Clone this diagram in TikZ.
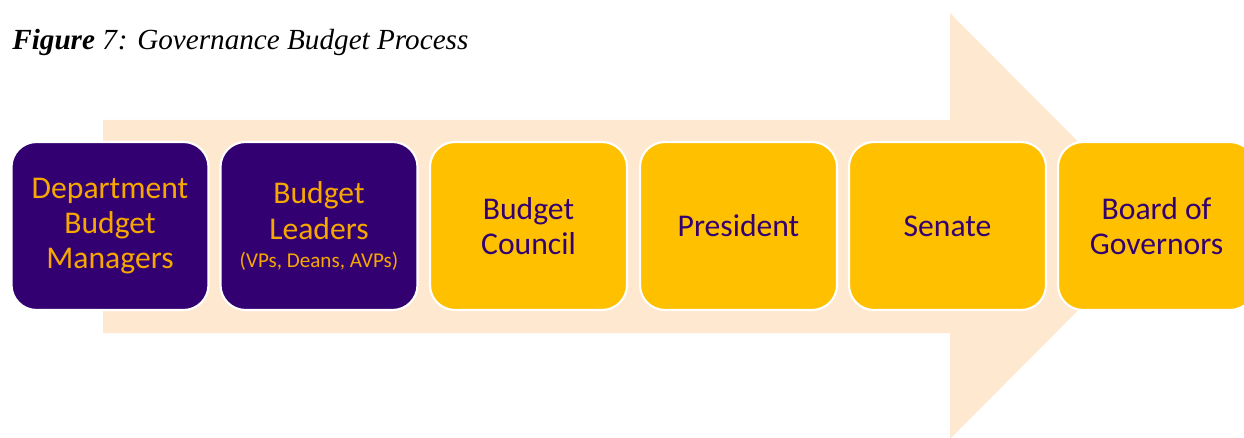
\documentclass[tikz,border=0pt]{standalone}
\usepackage{fontspec}
\setmainfont{Liberation Serif}
\newfontfamily\boxfont{Carlito}
\definecolor{ecupurple}{HTML}{330072}
\definecolor{ecugold}{HTML}{FFC000}
\definecolor{ecutext}{HTML}{F7A800}
\definecolor{arrowpeach}{HTML}{FEE8D0}

\begin{document}
\begin{tikzpicture}[
    stage/.style={draw=white, line width=1.2pt, rounded corners=0.5cm,
        minimum width=3.94cm, minimum height=3.36cm, align=center,
        font=\boxfont\fontsize{18}{20}\selectfont},
    early/.style={stage, fill=ecupurple, text=ecutext},
    late/.style={stage, fill=ecugold, text=ecupurple}
]

    % Page frame
    \useasboundingbox (0,0) rectangle (24.88,8.74);
    \clip (0,0) rectangle (24.88,8.74);

    % Title
    \node[anchor=base west, inner sep=0pt, font=\fontsize{16.6}{20}\selectfont] (title) at (0.24,7.74)
        {\textbf{\textit{Figure}} \textit{7}\textit{: Governance Budget Process}};

    % Big background arrow
    \fill[arrowpeach] (2.06,6.34) -- (19.0,6.34) -- (19.0,8.48) -- (23.24,4.22)
        -- (19.0,-0.04) -- (19.0,2.08) -- (2.06,2.08) -- cycle;

    % Process stages, left to right
    \node[early] (dept)   at (2.20,4.22)  {Department\\Budget\\Managers};
    \node[early] (leaders) at (6.38,4.22) {Budget\\Leaders\\[-4pt]{\fontsize{12}{13}\selectfont (VPs, Deans, AVPs)}};
    \node[late]  (council) at (10.57,4.22) {Budget\\Council};
    \node[late]  (pres)    at (14.77,4.22) {President};
    \node[late]  (senate)  at (18.95,4.22) {Senate};
    \node[late]  (board)   at (23.13,4.22) {Board of\\Governors};

\end{tikzpicture}
\end{document}
